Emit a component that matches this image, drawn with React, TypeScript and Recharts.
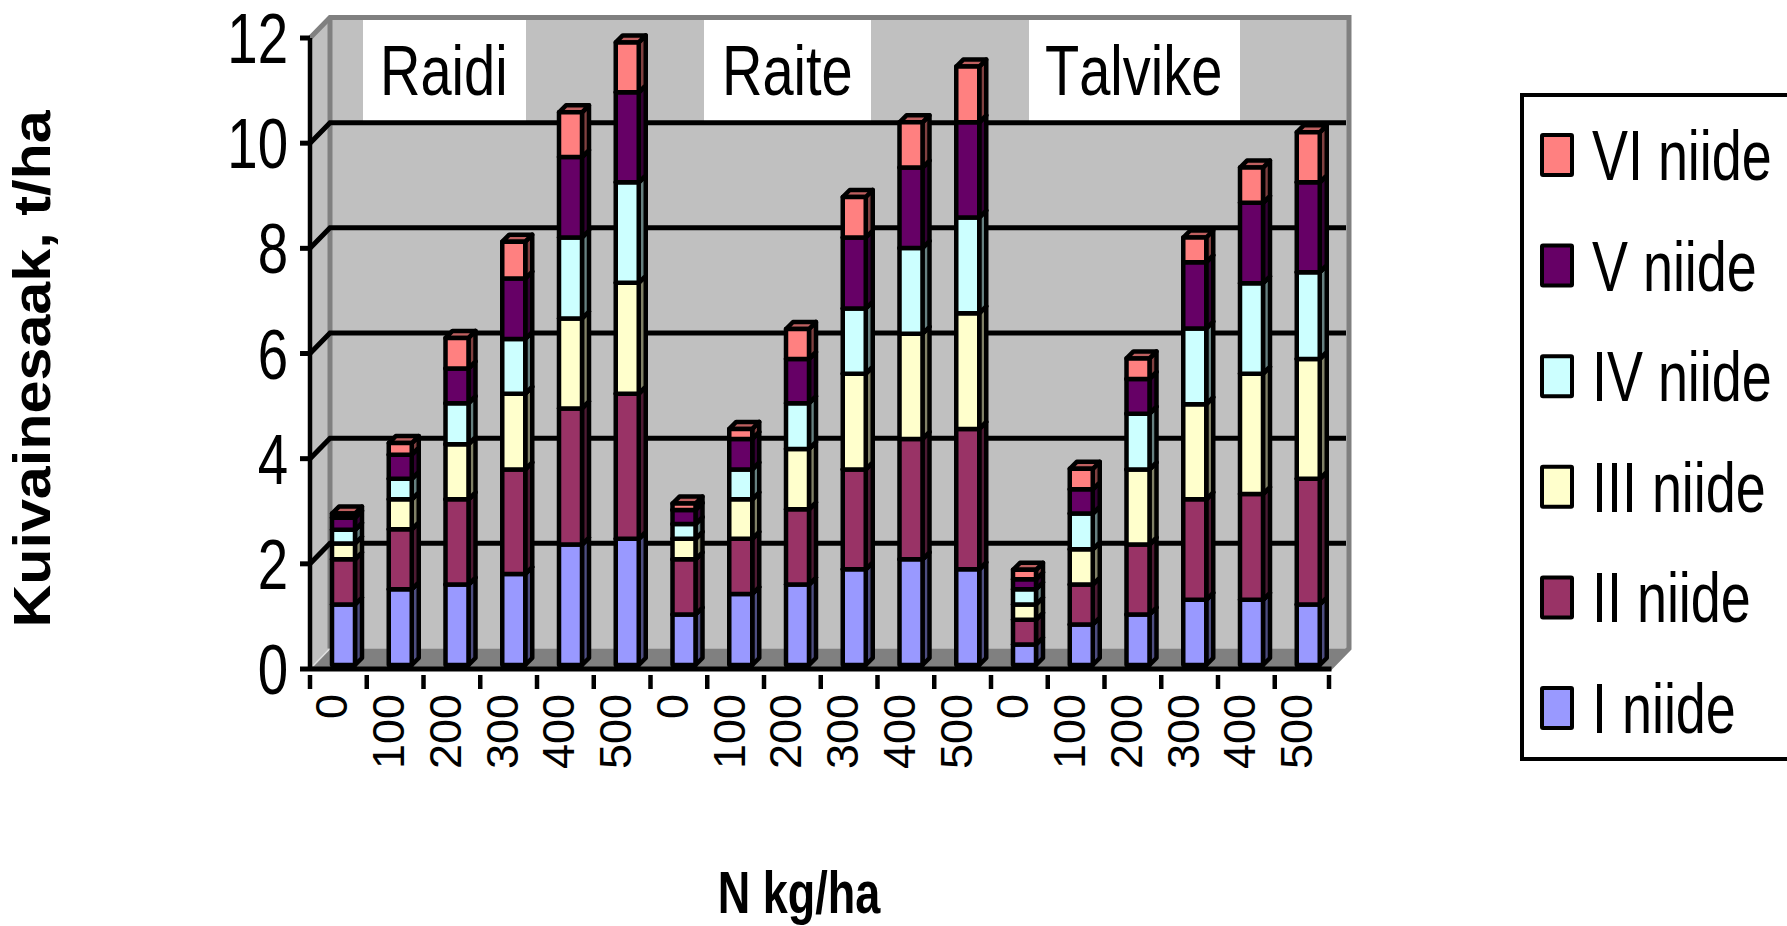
import { BarChart, Bar, XAxis, YAxis, Legend, ReferenceArea, ReferenceLine } from 'recharts'

const doses = ['0', '100', '200', '300', '400', '500', '0', '100', '200', '300', '400', '500', '0', '100', '200', '300', '400', '500']

const niide1 = [1.15, 1.44, 1.53, 1.73, 2.29, 2.4, 0.96, 1.35, 1.53, 1.82, 2.01, 1.82, 0.39, 0.77, 0.96, 1.24, 1.24, 1.15]
const niide2 = [0.86, 1.14, 1.62, 1.99, 2.59, 2.76, 1.05, 1.05, 1.43, 1.9, 2.29, 2.67, 0.47, 0.76, 1.33, 1.91, 2.01, 2.39]
const niide3 = [0.3, 0.57, 1.05, 1.44, 1.71, 2.11, 0.39, 0.75, 1.15, 1.82, 2.0, 2.2, 0.29, 0.67, 1.43, 1.81, 2.29, 2.28]
const niide4 = [0.26, 0.39, 0.78, 1.04, 1.54, 1.91, 0.28, 0.57, 0.87, 1.24, 1.63, 1.82, 0.29, 0.68, 1.06, 1.44, 1.72, 1.65]
const niide5 = [0.23, 0.46, 0.66, 1.15, 1.53, 1.71, 0.27, 0.58, 0.84, 1.35, 1.53, 1.81, 0.19, 0.46, 0.66, 1.26, 1.53, 1.71]
const niide6 = [0.08, 0.22, 0.58, 0.7, 0.85, 0.95, 0.12, 0.19, 0.57, 0.77, 0.86, 1.06, 0.18, 0.39, 0.39, 0.47, 0.67, 0.95]

const seriesNames = ['I niide', 'II niide', 'III niide', 'IV niide', 'V niide', 'VI niide']
const seriesValues = [niide1, niide2, niide3, niide4, niide5, niide6]
const frontColors = ['#9999FF', '#993366', '#FFFFCC', '#CCFFFF', '#660066', '#FF8080']
const sideColors = ['#4D4D80', '#4D1A33', '#808066', '#668080', '#330033', '#804040']
const topColors = ['#7373BF', '#73264D', '#BFBF99', '#99BFBF', '#4D004D', '#BF6060']

const yTicks = [0, 2, 4, 6, 8, 10, 12]
const gridValues = [2, 4, 6, 8, 10]

const varieties = [
  { name: 'Raidi', left: 363, right: 526, textX: 380 },
  { name: 'Raite', left: 704, right: 871, textX: 722 },
  { name: 'Talvike', left: 1029, right: 1240, textX: 1045 },
]

const data = doses.map((dose, i) => {
  const row: Record<string, string | number> = { dose }
  seriesNames.forEach((name, s) => {
    row[name] = seriesValues[s][i]
  })
  return row
})

const WIDTH = 1787
const HEIGHT = 926
const LEFT = 310
const RIGHT = 455.5
const TOP = 38
const BOTTOM = 257
const BAND = (WIDTH - LEFT - RIGHT) / doses.length

// how far the back wall sits behind the axes
const WALL_X = 20
const WALL_Y = 20.5
// the walls end slightly short of the last band
const WALL_TRIM = 2.5
// bars stand a little way in from the front edge of the floor
const BAR_DX = 5
const BAR_DY = -4
const BAR_DEPTH = 7

const FONT = '"Liberation Sans", Arial, sans-serif'

function Squeezed({ x, y, size, sx = 1, rotate = 0, anchor = 'start', bold = false, children }: any) {
  return (
    <text
      transform={`translate(${x} ${y}) rotate(${rotate}) scale(${sx} 1)`}
      fontFamily={FONT}
      fontSize={size}
      fontWeight={bold ? 700 : 400}
      textAnchor={anchor}
      fill="#000"
      style={{ fontKerning: 'none' }}
    >
      {children}
    </text>
  )
}

function Walls({ x, y, width, height }: any) {
  const bx = x + WALL_X
  const by = y - WALL_Y
  const right = x + width - WALL_TRIM
  const bottom = y + height
  return (
    <g>
      <rect x={bx} y={by} width={right - x} height={height} fill="#C0C0C0" />
      <polygon points={`${x},${y} ${bx},${by} ${bx},${by + height} ${x},${bottom}`} fill="#C0C0C0" />
      <polygon points={`${x},${bottom} ${right},${bottom} ${right + WALL_X},${bottom - WALL_Y} ${bx},${bottom - WALL_Y}`} fill="#808080" />
      <line x1={x + 3} y1={bottom - 3} x2={bx} y2={bottom - WALL_Y} stroke="#E0E0E0" strokeWidth={1.5} />
      <line x1={right + 2} y1={bottom - 2} x2={right + WALL_X - 2} y2={bottom - WALL_Y + 2} stroke="#F0F0F0" strokeWidth={2} />
      <polyline
        points={`${x},${y} ${bx},${by} ${right + WALL_X},${by} ${right + WALL_X},${bottom - WALL_Y} ${right},${bottom}`}
        fill="none"
        stroke="#808080"
        strokeWidth={5}
      />
      <line x1={bx} y1={by} x2={bx} y2={bottom - WALL_Y} stroke="#808080" strokeWidth={5} />
      {varieties.map((v) => (
        <g key={v.name}>
          <rect x={v.left} y={20} width={v.right - v.left} height={101} fill="#fff" />
          <Squeezed x={v.textX} y={95} size={70} sx={0.8}>
            {v.name}
          </Squeezed>
        </g>
      ))}
    </g>
  )
}

function WallGridLine({ x1, y1, x2, y2 }: any) {
  const y = Math.min(y1, y2)
  return (
    <polyline
      points={`${x1},${y} ${x1 + WALL_X},${y - WALL_Y} ${x2 + WALL_X - WALL_TRIM - 3},${y - WALL_Y}`}
      fill="none"
      stroke="#000"
      strokeWidth={5}
    />
  )
}

function Bar3D({ x, y, width, height, seriesIndex }: any) {
  const l = x + BAR_DX
  const t = y + BAR_DY
  const r = l + width
  const b = t + height
  const d = BAR_DEPTH
  return (
    <g stroke="#000" strokeWidth={4.5} strokeLinejoin="round">
      <polygon points={`${r},${t} ${r + d},${t - d} ${r + d},${b - d} ${r},${b}`} fill={sideColors[seriesIndex]} />
      <polygon points={`${l},${t} ${l + d},${t - d} ${r + d},${t - d} ${r},${t}`} fill={topColors[seriesIndex]} />
      <rect x={l} y={t} width={width} height={height} fill={frontColors[seriesIndex]} />
    </g>
  )
}

function DoseTick({ x, y, payload, index, visibleTicksCount }: any) {
  const edge = x - BAND / 2
  const lastEdge = index === visibleTicksCount - 1 ? x + BAND / 2 - WALL_TRIM : null
  return (
    <g>
      <line x1={edge} y1={y - 2} x2={edge} y2={y + 12} stroke="#000" strokeWidth={4.5} />
      {lastEdge !== null && <line x1={lastEdge} y1={y - 2} x2={lastEdge} y2={y + 12} stroke="#000" strokeWidth={4.5} />}
      <Squeezed x={x + 9} y={694} size={45} rotate={-90} anchor="end">
        {payload.value}
      </Squeezed>
    </g>
  )
}

function ValueTick({ x, y, payload }: any) {
  return (
    <Squeezed x={288} y={y + 25} size={70} sx={0.78} anchor="end">
      {payload.value}
    </Squeezed>
  )
}

function NiideLegend() {
  const rows = [...seriesNames].reverse()
  return (
    <svg width={268} height={668} style={{ display: 'block' }}>
      <rect x={2} y={2} width={270} height={664} fill="#fff" stroke="#000" strokeWidth={4} />
      {rows.map((name, i) => {
        const s = seriesNames.indexOf(name)
        return (
          <g key={name}>
            <rect x={22} y={42 + i * 110.6} width={30} height={40} fill={frontColors[s]} stroke="#000" strokeWidth={4} rx={1} />
            <Squeezed x={72} y={87 + i * 110.6} size={70} sx={0.77}>
              {name}
            </Squeezed>
          </g>
        )
      })}
    </svg>
  )
}

export default function App() {
  return (
    <div style={{ position: 'absolute', left: 0, top: 0, width: WIDTH, height: HEIGHT, background: '#fff', overflow: 'hidden' }}>
      <BarChart width={WIDTH} height={HEIGHT} data={data} margin={{ top: TOP, right: RIGHT, bottom: 0, left: 0 }} barSize={23}>
        <ReferenceArea y1={0} y2={12} shape={<Walls />} ifOverflow="visible" zIndex={-20} />
        {gridValues.map((v) => (
          <ReferenceLine key={v} y={v} shape={<WallGridLine />} zIndex={-10} />
        ))}
        <XAxis
          dataKey="dose"
          height={BOTTOM}
          interval={0}
          tickLine={false}
          tick={<DoseTick />}
          axisLine={{ stroke: '#000', strokeWidth: 5 }}
        />
        <YAxis
          width={LEFT}
          domain={[0, 12]}
          ticks={yTicks}
          interval={0}
          tickSize={10}
          tick={<ValueTick />}
          tickLine={{ stroke: '#000', strokeWidth: 5 }}
          axisLine={{ stroke: '#000', strokeWidth: 4.5 }}
        />
        {seriesNames.map((name, s) => (
          <Bar
            key={name}
            dataKey={name}
            stackId="niide"
            isAnimationActive={false}
            fill={frontColors[s]}
            shape={(props: any) => <Bar3D {...props} seriesIndex={s} />}
          />
        ))}
        <Legend
          layout="vertical"
          align="center"
          verticalAlign="middle"
          wrapperStyle={{ left: 1520, top: 93, width: 268, height: 668 }}
          content={<NiideLegend />}
        />
        <Squeezed x={50} y={369} size={52} sx={1.14} rotate={-90} anchor="middle" bold>
          Kuivainesaak, t/ha
        </Squeezed>
        <Squeezed x={799} y={913} size={60} sx={0.75} anchor="middle" bold>
          N kg/ha
        </Squeezed>
      </BarChart>
    </div>
  )
}
